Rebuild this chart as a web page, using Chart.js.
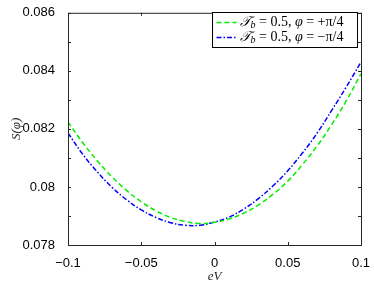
<!DOCTYPE html>
<html lang="en">
<head>
<meta charset="UTF-8">
<title>S(phi) vs eV</title>
<script src="https://cdn.jsdelivr.net/npm/chart.js"></script>
<style>
  html, body { margin: 0; padding: 0; background: #fff; }
  #wrap { position: relative; width: 374px; height: 286px; }
</style>
</head>
<body>
<div id="wrap"><canvas id="c" width="374" height="286"></canvas></div>
<script>
// bias values eV
const eV = [-0.1, -0.09, -0.08, -0.07, -0.06, -0.05, -0.04, -0.03, -0.02, -0.01, 0,
            0.01, 0.02, 0.03, 0.04, 0.05, 0.06, 0.07, 0.08, 0.09, 0.1];
// T_b = 0.5, phi = +pi/4 (green dashed)
const sPlus = [0.08224, 0.08153, 0.0809, 0.08035, 0.07988, 0.07949, 0.07918, 0.07895, 0.07881, 0.07874, 0.07878,
               0.0789, 0.0791, 0.07938, 0.07975, 0.0802, 0.08077, 0.08141, 0.08215, 0.08297, 0.0839];
// T_b = 0.5, phi = -pi/4 (blue dash-dot)
const sMinus = [0.08186, 0.08113, 0.08052, 0.07999, 0.07956, 0.07921, 0.07895, 0.07877, 0.07868, 0.07868, 0.07879,
                0.07896, 0.07924, 0.0796, 0.08004, 0.08056, 0.08117, 0.08185, 0.08264, 0.08345, 0.0843];

const xTicks = [-0.1, -0.05, 0, 0.05, 0.1];
const yTicks = [0.078, 0.08, 0.082, 0.084, 0.086];
const yMarks = [0.078, 0.079, 0.08, 0.081, 0.082, 0.083, 0.084, 0.085, 0.086];
const legendRest = [' = 0.5, ', ' = +\u03C0/4', ' = \u2212\u03C0/4'];

const fmt = v => {
  const s = String(+v.toFixed(4));
  return s.replace('-', '\u2212');
};

// box + inward ticks (MATLAB style)
const axesBox = {
  id: 'axesBox',
  afterDraw(chart) {
    const { ctx, chartArea: a, scales: { x, y } } = chart;
    ctx.save();
    ctx.strokeStyle = '#262626';
    ctx.lineWidth = 1;
    ctx.strokeRect(a.left + 0.5, a.top + 0.5, a.right - a.left, a.bottom - a.top);
    ctx.beginPath();
    const tl = 3;
    xTicks.forEach(v => {
      const px = Math.round(x.getPixelForValue(v)) + 0.5;
      ctx.moveTo(px, a.bottom); ctx.lineTo(px, a.bottom - tl);
      ctx.moveTo(px, a.top); ctx.lineTo(px, a.top + tl);
    });
    yMarks.forEach(v => {
      const py = Math.round(y.getPixelForValue(v)) + 0.5;
      ctx.moveTo(a.left, py); ctx.lineTo(a.left + tl, py);
      ctx.moveTo(a.right, py); ctx.lineTo(a.right - tl, py);
    });
    ctx.stroke();

    // legend
    const bx = 212.5, by = 12.5, bw = 145, bh = 35;
    ctx.fillStyle = '#fff';
    ctx.fillRect(bx, by, bw, bh);
    ctx.strokeStyle = '#000';
    ctx.strokeRect(bx, by, bw, bh);
    chart.data.datasets.forEach((ds, i) => {
      const cy = by + 10 + i * 15;
      ctx.save();
      ctx.strokeStyle = ds.borderColor;
      ctx.lineWidth = ds.borderWidth;
      ctx.setLineDash(ds.borderDash);
      ctx.beginPath();
      ctx.moveTo(bx + 4, cy); ctx.lineTo(bx + 24, cy);
      ctx.stroke();
      ctx.restore();
      ctx.fillStyle = '#000';
      ctx.textBaseline = 'middle';
      ctx.textAlign = 'left';
      let tx = bx + 27;
      const parts = [
        ['italic 14px "Liberation Serif"', '\uD835\uDCAF', 0],
        ['italic 10px "Liberation Serif"', 'b', 3],
        ['14px "Liberation Serif"', legendRest[0], 0],
        ['italic 14px "Liberation Serif"', '\u03C6', 0],
        ['14px "Liberation Serif"', legendRest[i + 1], 0]
      ];
      parts.forEach(([f, t, dy]) => {
        ctx.font = f;
        ctx.fillText(t, tx, cy + dy);
        tx += ctx.measureText(t).width;
      });
    });
    ctx.restore();
  }
};

new Chart(document.getElementById('c'), {
  type: 'line',
  data: {
    datasets: [
      {
        label: 'T_b = 0.5, phi = +pi/4',
        data: eV.map((v, i) => ({ x: v, y: sPlus[i] })),
        borderColor: '#00ee00',
        borderWidth: 1.5,
        borderDash: [5, 3],
        pointRadius: 0,
        tension: 0.4,
        fill: false
      },
      {
        label: 'T_b = 0.5, phi = -pi/4',
        data: eV.map((v, i) => ({ x: v, y: sMinus[i] })),
        borderColor: '#0000ff',
        borderWidth: 1.5,
        borderDash: [5, 2, 1.5, 2],
        pointRadius: 0,
        tension: 0.4,
        fill: false
      }
    ]
  },
  options: {
    responsive: false,
    animation: false,
    devicePixelRatio: 1,
    layout: { padding: { top: 10, right: 13, left: 0, bottom: 0 } },
    plugins: { legend: { display: false }, tooltip: { enabled: false } },
    scales: {
      x: {
        type: 'linear',
        min: -0.1, max: 0.1,
        afterBuildTicks: s => { s.ticks = xTicks.map(v => ({ value: v })); },
        afterFit: s => { s.height = 41; },
        grid: { display: false },
        border: { display: false },
        ticks: {
          callback: v => fmt(v),
          font: { family: '"Liberation Sans"', size: 13 },
          color: '#000',
          padding: 3,
          maxRotation: 0
        },
        title: {
          display: true,
          text: 'eV',
          font: { family: '"Liberation Serif"', size: 13, style: 'italic' },
          color: '#262626',
          padding: { top: 0, bottom: 2 }
        }
      },
      y: {
        min: 0.078, max: 0.086,
        afterBuildTicks: s => { s.ticks = yTicks.map(v => ({ value: v })); },
        afterFit: s => { s.width = 68; },
        grid: { display: false },
        border: { display: false },
        ticks: {
          callback: v => fmt(v),
          font: { family: '"Liberation Sans"', size: 13 },
          color: '#000',
          padding: 5
        },
        title: {
          display: true,
          text: 'S(\u03C6)',
          font: { family: '"Liberation Serif"', size: 13, style: 'italic' },
          color: '#262626',
          padding: { top: 9, bottom: 0 }
        }
      }
    }
  },
  plugins: [axesBox]
});
</script>
</body>
</html>
